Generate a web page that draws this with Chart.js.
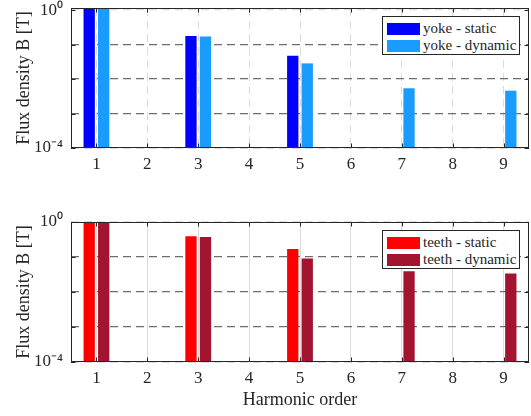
<!DOCTYPE html>
<html>
<head>
<meta charset="utf-8">
<script src="https://cdn.jsdelivr.net/npm/chart.js@4.4.0/dist/chart.umd.min.js"></script>
<style>
  html, body { margin: 0; padding: 0; background: #fff; }
  #wrap { position: relative; width: 531px; height: 416px; }
  .pane { position: absolute; left: 0; width: 531px; height: 208px; }
  .legend {
    position: absolute; left: 382px; width: 138px; height: 39px; box-sizing: border-box;
    background: #fff; border: 1px solid #262626; padding-top: 3px;
    font-family: 'Liberation Serif', 'Times New Roman', serif; font-size: 15px; color: #262626;
  }
  .legend .row { display: flex; align-items: center; height: 17px; white-space: nowrap; }
  .legend .sw { width: 33px; height: 12px; margin: 0 3px 0 4px; }
</style>
</head>
<body>
<div id="wrap">
  <div class="pane" style="top:0"><canvas id="chartYoke" width="531" height="208"></canvas></div>
  <div class="pane" style="top:208px"><canvas id="chartTeeth" width="531" height="208"></canvas></div>
  <div class="legend" id="legendYoke" style="top:16px"></div>
  <div class="legend" id="legendTeeth" style="top:230px"></div>
</div>
<script>
// harmonic orders on the x axis
const harmonics = ['1', '2', '3', '4', '5', '6', '7', '8', '9']

// flux density B [T] (null = no bar)
const yokeStatic = [1.2, null, 0.176, null, 0.047, null, null, null, null]
const yokeDynamic = [1.2, null, 0.172, null, 0.0285, null, 0.0054, null, 0.0046]
const teethStatic = [1.1, null, 0.39, null, 0.169, null, null, null, null]
const teethDynamic = [1.1, null, 0.373, null, 0.09, null, 0.039, null, 0.034]

const yTicks = [1e-4, 1e-3, 1e-2, 1e-1, 1]
const yTickLabels = { 1: '10\u2070', 0.0001: '10\u207B\u2074' }

const FONT = "'Liberation Serif', 'Times New Roman', serif"
const AXIS = '#262626'

// MATLAB-like box with inward ticks on all four sides
const boxPlugin = {
  id: 'box',
  afterDraw(chart) {
    const { ctx, chartArea: a, scales: { x, y } } = chart
    ctx.save()
    ctx.strokeStyle = AXIS
    ctx.lineWidth = 1
    ctx.beginPath()
    x.ticks.forEach((t, i) => {
      const px = Math.round(x.getPixelForTick(i)) + 0.5
      ctx.moveTo(px, a.bottom); ctx.lineTo(px, a.bottom - 4.5)
      ctx.moveTo(px, a.top); ctx.lineTo(px, a.top + 4.5)
    })
    y.ticks.forEach((t) => {
      const py = Math.round(y.getPixelForValue(t.value)) + 0.5
      ctx.moveTo(a.left, py); ctx.lineTo(a.left + 4.5, py)
      ctx.moveTo(a.right, py); ctx.lineTo(a.right - 4.5, py)
    })
    ctx.stroke()
    ctx.strokeRect(Math.round(a.left) + 0.5, Math.round(a.top) + 0.5,
      Math.round(a.right - a.left) - 1, Math.round(a.bottom - a.top) - 1)
    ctx.restore()
  }
}

function noPad(s) {
  s.paddingTop = 0; s.paddingBottom = 0; s.paddingLeft = 0; s.paddingRight = 0
}

function makeChart(id, sets, o) {
  return new Chart(document.getElementById(id), {
    type: 'bar',
    data: {
      labels: harmonics,
      datasets: sets.map(s => ({
        label: s.label,
        data: s.data,
        backgroundColor: s.color,
        borderColor: s.color,
        borderWidth: 0,
        categoryPercentage: 0.57,
        barPercentage: 0.78,
      })),
    },
    options: {
      responsive: false,
      animation: false,
      layout: { padding: { top: o.top, right: 2, left: 0, bottom: 0 } },
      plugins: { legend: { display: false }, tooltip: { enabled: false } },
      scales: {
        x: {
          offset: true,
          afterFit(s) { s.height = o.xHeight; noPad(s) },
          grid: { offset: false, drawTicks: false, color: o.xGridColor, lineWidth: 1 },
          border: { display: false, dash: o.xGridDash },
          ticks: { color: AXIS, font: { family: FONT, size: 17 }, padding: 6 },
          title: {
            display: !!o.xTitle, text: o.xTitle || '', color: AXIS,
            font: { family: FONT, size: 18 }, padding: { top: 0, bottom: 5 },
          },
        },
        y: {
          type: 'logarithmic',
          min: 1e-4,
          max: o.ymax,
          afterFit(s) { s.width = 71; noPad(s) },
          afterBuildTicks(s) { s.ticks = yTicks.map(v => ({ value: v })) },
          grid: {
            drawTicks: false,
            lineWidth: 1.2,
            color: c => (c.tick && c.tick.value === 1 ? '#dedede' : '#6e6e6e'),
          },
          border: {
            display: false,
            dash: c => (c.tick ? [8, 5] : []),
          },
          ticks: {
            color: AXIS, font: { family: FONT, size: 17 }, padding: 8,
            autoSkip: false,
            callback: v => yTickLabels[v] || '',
          },
          title: {
            display: true, text: 'Flux density B [T]', color: AXIS,
            font: { family: FONT, size: 18 }, padding: { top: 13, bottom: 0 },
          },
        },
      },
    },
    plugins: [boxPlugin],
  })
}

function makeLegend(id, sets) {
  document.getElementById(id).innerHTML = sets.map(s =>
    `<div class="row"><span class="sw" style="background:${s.color}"></span>${s.label}</div>`).join('')
}

const yokeSets = [
  { label: 'yoke - static', data: yokeStatic, color: '#0000ff' },
  { label: 'yoke - dynamic', data: yokeDynamic, color: '#1a9cff' },
]
const teethSets = [
  { label: 'teeth - static', data: teethStatic, color: '#ff0000' },
  { label: 'teeth - dynamic', data: teethDynamic, color: '#a2142f' },
]

makeChart('chartYoke', yokeSets, {
  ymax: 1.15, top: 8, xHeight: 60, xGridColor: '#dcdcdc', xGridDash: [8, 5],
})
makeChart('chartTeeth', teethSets, {
  ymax: 1, top: 14, xHeight: 54, xGridColor: '#dcdcdc', xGridDash: [],
  xTitle: 'Harmonic order',
})
makeLegend('legendYoke', yokeSets)
makeLegend('legendTeeth', teethSets)
</script>
</body>
</html>
